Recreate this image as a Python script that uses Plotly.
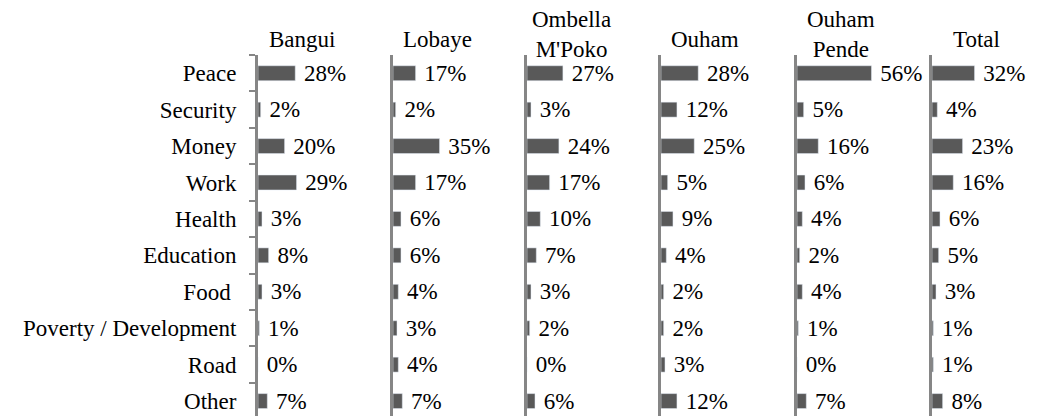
import plotly.graph_objects as go
from plotly.subplots import make_subplots

## 1. Data
categories = ['Peace', 'Security', 'Money', 'Work', 'Health', 'Education',
              'Food\u00a0', 'Poverty / Development', 'Road', 'Other']
regions = ['Bangui', 'Lobaye', 'Ombella<br>M\'Poko', 'Ouham', 'Ouham<br>Pende', 'Total']

bangui = [28, 2, 20, 29, 3, 8, 3, 1, 0, 7]
lobaye = [17, 2, 35, 17, 6, 6, 4, 3, 4, 7]
ombella_mpoko = [27, 3, 24, 17, 10, 7, 3, 2, 0, 6]
ouham = [28, 12, 25, 5, 9, 4, 2, 2, 3, 12]
ouham_pende = [56, 5, 16, 6, 4, 2, 4, 1, 0, 7]
total = [32, 4, 23, 16, 6, 5, 3, 1, 1, 8]

series = [bangui, lobaye, ombella_mpoko, ouham, ouham_pende, total]

## 2. Styling
# the page body has an 8px margin, so the figure is drawn 8px in from the window edge
OFF = 8
W, H = 1057 - OFF, 416 - OFF
FONT = 'Liberation Serif'
FS = 23
BAR_COLOR = '#595959'
AXIS_COLOR = '#868686'
axis_px = [p - OFF for p in [258, 393, 527, 661, 797, 932]]  # left edge of each panel
px_per_pct = 1.33
top_px = 55 - OFF

fig = make_subplots(rows=1, cols=6, shared_yaxes=False)

for i, vals in enumerate(series):
    fig.add_trace(go.Bar(
        x=vals,
        y=categories,
        orientation='h',
        marker_color=BAR_COLOR,
        text=['\u00a0{}%'.format(v) for v in vals],
        textposition='outside',
        textfont=dict(family=FONT, size=FS, color='black'),
        constraintext='none',
        cliponaxis=False,
        showlegend=False,
    ), 1, i + 1)

    xa = 'xaxis' if i == 0 else 'xaxis{}'.format(i + 1)
    ya = 'yaxis' if i == 0 else 'yaxis{}'.format(i + 1)
    right_px = min(axis_px[i] + 128, W)
    fig.layout[xa].update(domain=[axis_px[i] / W, right_px / W],
                          range=[0, (right_px - axis_px[i]) / px_per_pct],
                          visible=False, automargin=False)
    fig.layout[ya].update(domain=[0, 1 - top_px / H],
                          type='category', automargin=False,
                          categoryorder='array', categoryarray=categories,
                          range=[9.41, -0.5],
                          showline=True, linecolor=AXIS_COLOR, linewidth=3,
                          showgrid=False, zeroline=False,
                          showticklabels=(i == 0),
                          ticks='outside' if i == 0 else '',
                          tickson='boundaries', ticklen=6, tickwidth=2,
                          tickcolor=AXIS_COLOR, ticklabelstandoff=14,
                          tickfont=dict(family=FONT, size=FS, color='black'))

    # panel title
    two_lines = '<br>' in regions[i]
    fig.add_annotation(
        text=regions[i],
        xref='paper', yref='paper',
        x=(axis_px[i] + 44) / W,
        y=1 - ((34 if two_lines else 40) - OFF) / H,
        xanchor='center', yanchor='middle',
        showarrow=False,
        font=dict(family=FONT, size=FS, color='black'),
    )

fig.update_layout(
    width=W, height=H,
    margin=dict(l=0, r=0, t=0, b=0, autoexpand=False),
    bargap=0.59,
    paper_bgcolor='white',
    plot_bgcolor='white',
    font=dict(family=FONT, size=FS, color='black'),
)

fig.write_html("out.html")
